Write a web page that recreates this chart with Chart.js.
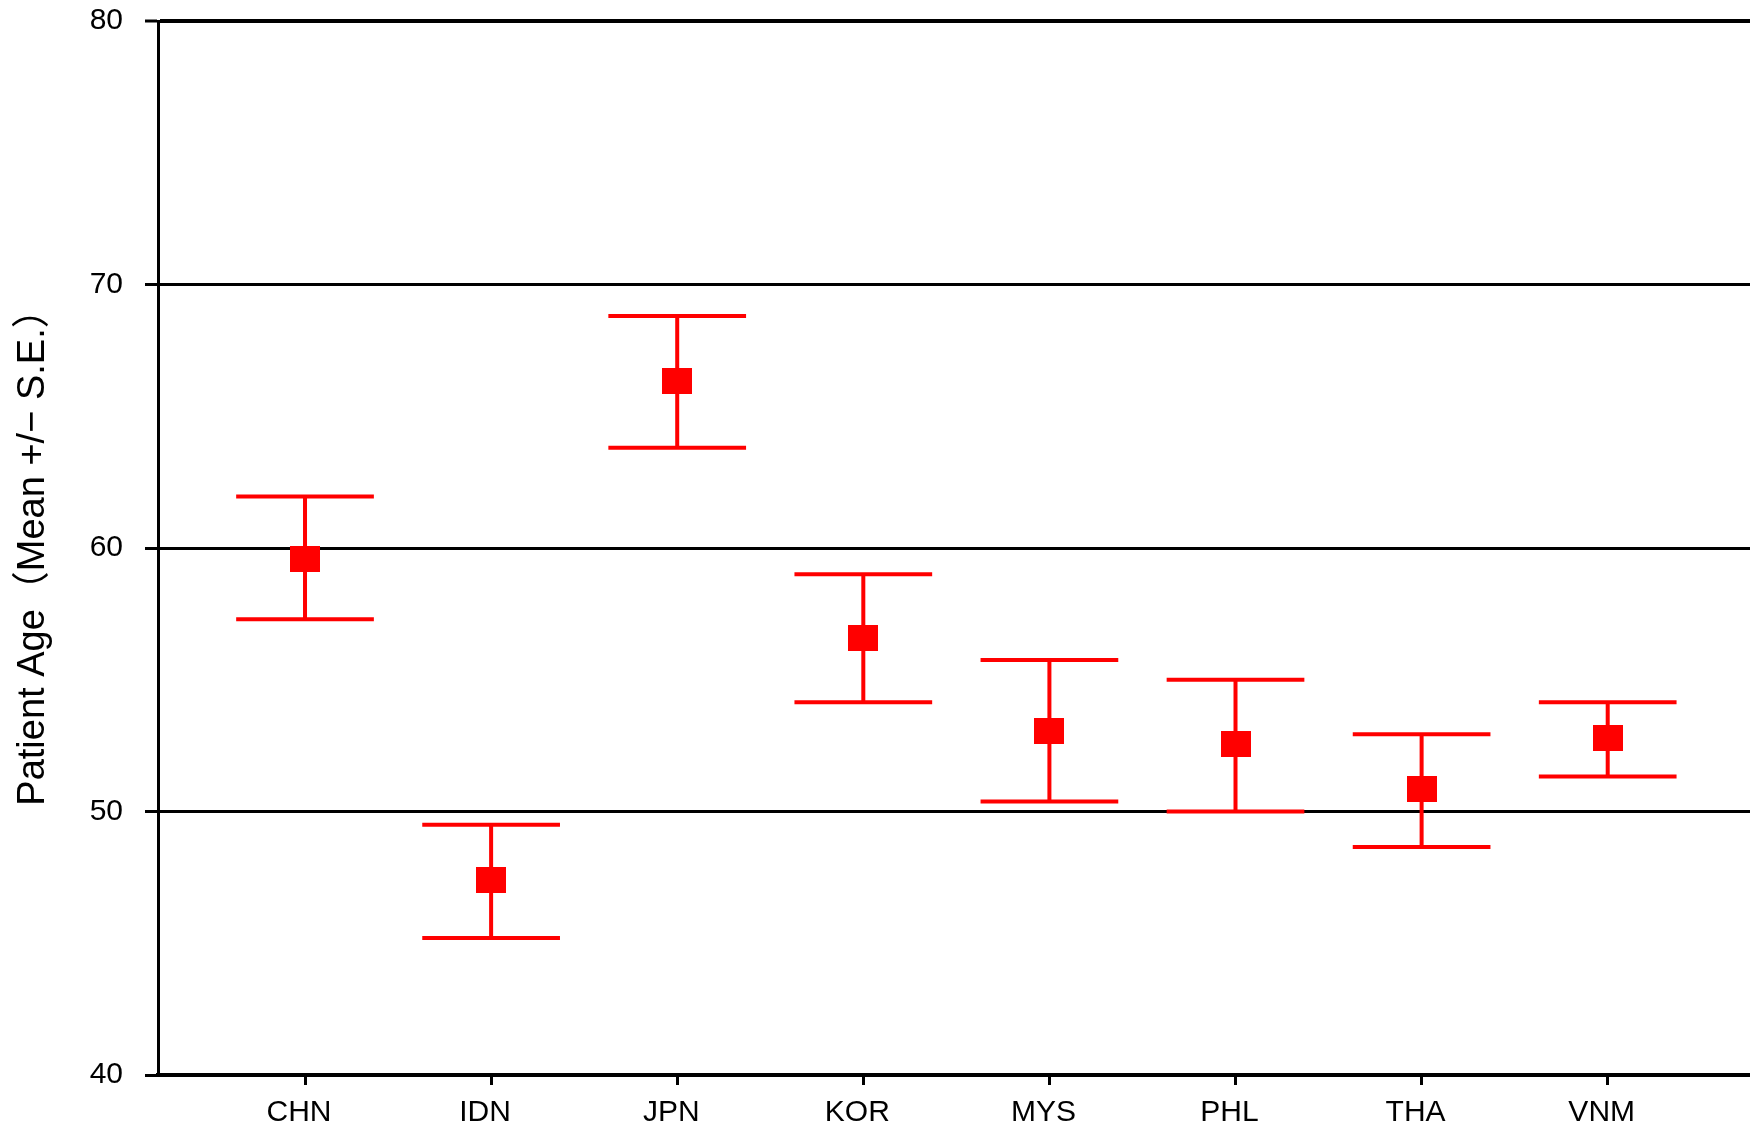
<!DOCTYPE html>
<html>
<head>
<meta charset="utf-8">
<script src="https://cdn.jsdelivr.net/npm/chart.js@4.4.1/dist/chart.umd.min.js"></script>
<style>
html, body { margin: 0; padding: 0; background: #ffffff; overflow: hidden; }
canvas { display: block; }
</style>
</head>
<body>
<canvas id="chart" width="1767" height="1127"></canvas>
<script>
// ---- data ----
const categories = ['CHN', 'IDN', 'JPN', 'KOR', 'MYS', 'PHL', 'THA', 'VNM'];
const means      = [59.6, 47.4, 66.35, 56.6, 53.05, 52.55, 50.85, 52.8];
const upperSE    = [61.95, 49.5, 68.8, 59.0, 55.75, 55.0, 52.93, 54.15];
const lowerSE    = [57.3, 45.2, 63.8, 54.15, 50.38, 50.0, 48.65, 51.33];
const yTickValues = [40, 50, 60, 70, 80];
const yTitle = 'Patient Age（Mean +/− S.E.）';

// ---- style ----
const RED = '#ff0000';
const BLACK = '#000000';
const FONT = '"Liberation Sans", Arial, "Noto Sans CJK JP", sans-serif';
const CAP_HALF = 0.37; // half cap width in category units

const marker = document.createElement('canvas');
marker.width = 30; marker.height = 26;
(function () {
  const g = marker.getContext('2d');
  g.fillStyle = RED;
  g.fillRect(0, 0, 30, 26);
})();

const errorBars = {
  id: 'errorBars',
  beforeDatasetsDraw(chart) {
    const { ctx, scales: { x, y } } = chart;
    ctx.save();
    ctx.strokeStyle = RED;
    ctx.lineWidth = 4;
    categories.forEach((c, i) => {
      const px = x.getPixelForValue(i);
      const pl = x.getPixelForValue(i - CAP_HALF);
      const pr = x.getPixelForValue(i + CAP_HALF);
      const yh = y.getPixelForValue(upperSE[i]);
      const yl = y.getPixelForValue(lowerSE[i]);
      ctx.beginPath();
      ctx.moveTo(px, yh); ctx.lineTo(px, yl);
      ctx.moveTo(pl, yh); ctx.lineTo(pr, yh);
      ctx.moveTo(pl, yl); ctx.lineTo(pr, yl);
      ctx.stroke();
    });
    ctx.restore();
  }
};

new Chart(document.getElementById('chart'), {
  type: 'scatter',
  data: {
    datasets: [{
      data: means.map((m, i) => ({ x: i, y: m })),
      pointStyle: marker,
      pointRadius: 15,
      pointHoverRadius: 15,
      backgroundColor: RED,
      borderColor: RED,
      showLine: false
    }]
  },
  options: {
    responsive: false,
    animation: false,
    devicePixelRatio: 1,
    layout: { padding: { top: 21, right: 0, bottom: 0, left: 0 } },
    plugins: {
      legend: { display: false },
      tooltip: { enabled: false }
    },
    scales: {
      x: {
        type: 'linear',
        min: -0.79,
        max: 7.77,
        afterBuildTicks: (s) => { s.ticks = categories.map((_, i) => ({ value: i })); },
        afterFit: (s) => { s.height = 52; s.paddingLeft = 0; s.paddingRight = 0; },
        ticks: {
          callback: (v) => categories[v] ?? '',
          font: { family: FONT, size: 30 },
          color: BLACK,
          padding: 10,
          labelOffset: -6,
          maxRotation: 0,
          autoSkip: false
        },
        grid: {
          drawOnChartArea: false,
          drawTicks: true,
          tickLength: 10,
          tickWidth: 3,
          color: BLACK
        },
        border: { display: true, color: BLACK, width: 4 }
      },
      y: {
        type: 'linear',
        min: 40,
        max: 80,
        afterBuildTicks: (s) => { s.ticks = yTickValues.map(v => ({ value: v })); },
        afterFit: (s) => { s.width = 158; s.paddingTop = 0; s.paddingBottom = 0; },
        ticks: {
          font: { family: FONT, size: 30 },
          color: BLACK,
          padding: 22
        },
        grid: {
          color: BLACK,
          lineWidth: (ctx) => (ctx.tick && ctx.tick.value === 80 ? 4 : 3),
          tickLength: 13,
          tickWidth: 3
        },
        border: { display: true, color: BLACK, width: 3 },
        title: {
          display: true,
          text: yTitle,
          font: { family: FONT, size: 38 },
          color: BLACK,
          padding: { top: 11, bottom: 0 }
        }
      }
    }
  },
  plugins: [errorBars]
});
</script>
</body>
</html>
